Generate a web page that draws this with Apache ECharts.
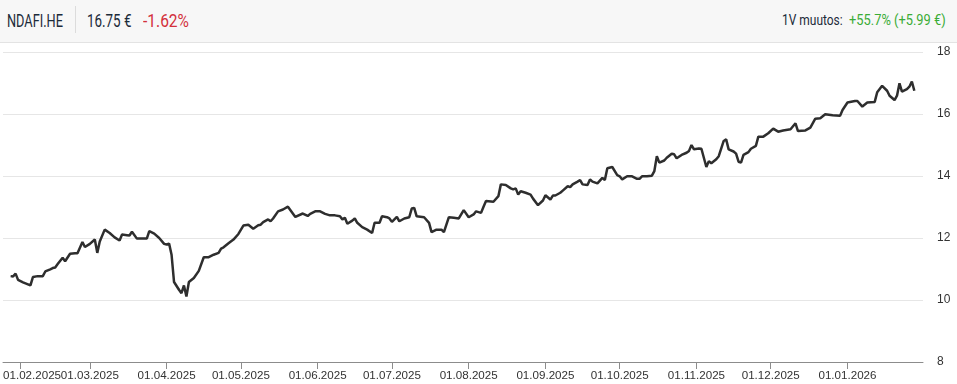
<!DOCTYPE html>
<html><head><meta charset="utf-8">
<script src="https://cdn.jsdelivr.net/npm/echarts@6/dist/echarts.min.js"></script>
<style>
html,body{margin:0;padding:0;background:#fff;}
#chart{position:absolute;left:0;top:0;width:957px;height:384px;}
#hdr{position:absolute;left:0;top:0;width:957px;height:42px;background:#f7f7f7;border-bottom:1px solid #e3e3e3;z-index:2;font-family:Roboto,"Noto Sans",sans-serif;}
.t{position:absolute;white-space:nowrap;transform-origin:0 0;line-height:1;}
#sep{position:absolute;left:75px;top:6px;width:1px;height:27px;background:#dcdcdc;}
</style></head><body>
<div id="chart"></div>
<div id="hdr">
  <span class="t" data-w="56" style="left:7px;top:12px;font-size:18px;color:#1c2b3a;">NDAFI.HE</span>
  <div id="sep"></div>
  <span class="t" data-w="44.5" style="left:87px;top:12px;font-size:18px;color:#1c2b3a;">16.75 €</span>
  <span class="t" data-w="46" style="left:143px;top:12px;font-size:18px;color:#d3303b;">-1.62%</span>
  <span class="t" data-w="60.7" style="left:782px;top:12.5px;font-size:15px;color:#1c2b3a;">1V muutos:</span>
  <span class="t" data-w="96.7" style="left:849px;top:12.5px;font-size:15px;color:#3aac36;">+55.7% (+5.99 €)</span>
</div>
<script>
const dates = [
'2025-01-28','2025-01-29','2025-01-30','2025-01-31','2025-02-02','2025-02-05','2025-02-06','2025-02-08','2025-02-10','2025-02-11',
'2025-02-13','2025-02-14','2025-02-15','2025-02-16','2025-02-18','2025-02-19','2025-02-21','2025-02-23','2025-02-24','2025-02-26',
'2025-02-27','2025-03-01','2025-03-03','2025-03-04','2025-03-05','2025-03-07','2025-03-09','2025-03-11','2025-03-13','2025-03-14',
'2025-03-16','2025-03-17','2025-03-18','2025-03-20','2025-03-22','2025-03-24','2025-03-25','2025-03-27','2025-03-29','2025-03-31',
'2025-04-01','2025-04-02','2025-04-03','2025-04-04','2025-04-06','2025-04-07','2025-04-08','2025-04-09','2025-04-10','2025-04-12',
'2025-04-14','2025-04-16','2025-04-18','2025-04-20','2025-04-22','2025-04-23','2025-04-24','2025-04-26','2025-04-28','2025-04-30',
'2025-05-02','2025-05-04','2025-05-06','2025-05-08','2025-05-09','2025-05-10','2025-05-12','2025-05-13','2025-05-14','2025-05-16',
'2025-05-18','2025-05-20','2025-05-23','2025-05-26','2025-05-28','2025-05-29','2025-05-31','2025-06-02','2025-06-04','2025-06-06',
'2025-06-08','2025-06-10','2025-06-11','2025-06-12','2025-06-13','2025-06-15','2025-06-16','2025-06-17','2025-06-19','2025-06-21',
'2025-06-23','2025-06-24','2025-06-26','2025-06-27','2025-06-29','2025-06-30','2025-07-01','2025-07-03','2025-07-04','2025-07-06',
'2025-07-08','2025-07-09','2025-07-10','2025-07-11','2025-07-14','2025-07-16','2025-07-17','2025-07-19','2025-07-21','2025-07-22',
'2025-07-24','2025-07-26','2025-07-28','2025-07-30','2025-08-01','2025-08-03','2025-08-04','2025-08-06','2025-08-07','2025-08-08',
'2025-08-11','2025-08-13','2025-08-14','2025-08-16','2025-08-18','2025-08-19','2025-08-20','2025-08-21','2025-08-22','2025-08-24',
'2025-08-26','2025-08-27','2025-08-29','2025-08-31','2025-09-01','2025-09-03','2025-09-04','2025-09-05','2025-09-07','2025-09-08',
'2025-09-10','2025-09-11','2025-09-12','2025-09-14','2025-09-15','2025-09-16','2025-09-18','2025-09-19','2025-09-20','2025-09-22',
'2025-09-24','2025-09-25','2025-09-26','2025-09-28','2025-09-30','2025-10-01','2025-10-02','2025-10-04','2025-10-06','2025-10-08',
'2025-10-09','2025-10-10','2025-10-12','2025-10-14','2025-10-15','2025-10-16','2025-10-17','2025-10-19','2025-10-20','2025-10-22',
'2025-10-23','2025-10-24','2025-10-26','2025-10-28','2025-10-29','2025-10-30','2025-10-31','2025-11-02','2025-11-03','2025-11-05',
'2025-11-06','2025-11-07','2025-11-09','2025-11-10','2025-11-12','2025-11-13','2025-11-14','2025-11-16','2025-11-17','2025-11-18',
'2025-11-19','2025-11-20','2025-11-22','2025-11-23','2025-11-25','2025-11-26','2025-11-28','2025-11-30','2025-12-02','2025-12-04',
'2025-12-06','2025-12-09','2025-12-11','2025-12-12','2025-12-15','2025-12-17','2025-12-19','2025-12-21','2025-12-23','2025-12-26',
'2025-12-29','2025-12-30','2026-01-01','2026-01-04','2026-01-05','2026-01-07','2026-01-09','2026-01-12','2026-01-13','2026-01-15',
'2026-01-17','2026-01-18','2026-01-20','2026-01-21','2026-01-22','2026-01-23','2026-01-25','2026-01-26','2026-01-27','2026-01-28'
];
const prices = [
10.77,10.76,10.85,10.65,10.57,10.47,10.74,10.77,10.77,10.92,
10.99,11.03,11.05,11.16,11.36,11.25,11.49,11.51,11.51,11.87,
11.71,11.81,11.95,11.52,11.89,12.27,12.16,12.02,11.92,12.11,
12.09,12.08,12.20,11.98,11.98,11.98,12.22,12.14,12.00,11.81,
11.79,11.82,11.46,10.58,10.33,10.22,10.47,10.11,10.58,10.71,
10.94,11.38,11.38,11.46,11.52,11.66,11.70,11.83,11.95,12.13,
12.40,12.43,12.30,12.41,12.43,12.51,12.60,12.54,12.63,12.86,
12.92,13.01,12.68,12.79,12.71,12.78,12.86,12.86,12.78,12.73,
12.73,12.70,12.60,12.65,12.46,12.56,12.63,12.49,12.35,12.27,
12.16,12.49,12.49,12.70,12.67,12.63,12.52,12.68,12.54,12.63,
12.67,12.95,12.97,12.70,12.67,12.49,12.19,12.27,12.27,12.19,
12.67,12.65,12.63,12.90,12.67,12.76,12.86,12.81,13.01,13.19,
13.17,13.35,13.73,13.71,13.60,13.57,13.60,13.40,13.51,13.46,
13.40,13.27,13.06,13.21,13.38,13.24,13.37,13.37,13.46,13.53,
13.67,13.64,13.73,13.82,13.87,13.73,13.71,13.89,13.82,13.76,
13.94,13.87,14.25,14.29,14.03,13.99,13.89,13.99,13.99,13.91,
13.91,13.99,13.99,14.01,14.16,14.64,14.43,14.50,14.59,14.72,
14.70,14.57,14.68,14.75,14.81,15.00,14.86,14.89,14.88,14.29,
14.48,14.41,14.54,14.64,15.13,15.18,14.86,14.79,14.72,14.46,
14.43,14.68,14.77,14.88,14.97,15.27,15.27,15.38,15.53,15.43,
15.47,15.51,15.70,15.45,15.47,15.56,15.85,15.86,15.99,15.96,
15.94,16.13,16.37,16.42,16.42,16.24,16.37,16.39,16.70,16.91,
16.75,16.59,16.45,16.59,16.99,16.72,16.80,16.88,17.05,16.75
];
const yMin = 8, yMax = 18, yStep = 2;
const xStart = new Date(2025, 0, 24, 22, 0).getTime();
const xEnd = new Date(2026, 0, 31, 12, 0).getTime();

// fit header texts to their widths
document.querySelectorAll('.t[data-w]').forEach(el => {
  const w = el.getBoundingClientRect().width;
  const target = parseFloat(el.dataset.w);
  if (w > 0) el.style.transform = 'scaleX(' + (target / w) + ')';
});

const pad = n => (n < 10 ? '0' : '') + n;
let firstLabelDone = false;
const chart = echarts.init(document.getElementById('chart'), null, {renderer: 'canvas'});
chart.setOption({
  animation: false,
  grid: {left: 3, right: 34, top: 52, bottom: 22, containLabel: false, outerBoundsMode: 'none'},
  xAxis: {
    type: 'time',
    min: xStart,
    max: xEnd,
    splitNumber: 12,
    axisLine: {lineStyle: {color: '#8c8c8c', width: 1}},
    axisTick: {show: true, length: 7, lineStyle: {color: '#8c8c8c'}},
    splitLine: {show: false},
    axisLabel: {
      color: '#333', fontSize: 11.6, fontFamily: 'Liberation Sans, Arial, sans-serif', margin: 8,
      hideOverlap: false,
      formatter: v => {
        const d = new Date(v);
        if (d.getDate() !== 1 || d.getHours() !== 0) return '';
        const s = pad(d.getDate()) + '.' + pad(d.getMonth() + 1) + '.' + d.getFullYear();
        // first label is pushed right so it stays inside the chart
        if (v - xStart < 20 * 864e5) return '{first|' + s + '}';
        return s;
      },
      rich: {first: {padding: [0, 0, 0, 23], color: '#333', fontSize: 11.6, fontFamily: 'Liberation Sans, Arial, sans-serif'}}
    }
  },
  yAxis: {
    type: 'value', position: 'right', min: yMin, max: yMax, interval: yStep,
    axisLine: {show: false}, axisTick: {show: false},
    splitLine: {lineStyle: {color: '#e6e6e6', width: 1}},
    axisLabel: {color: '#333', fontSize: 12, fontFamily: 'Liberation Sans, Arial, sans-serif', margin: 14}
  },
  series: [{
    type: 'line',
    data: dates.map((d, i) => [d, prices[i]]),
    showSymbol: false,
    lineStyle: {color: '#2e2e2e', width: 2.5},
    z: 3
  }]
});
</script>
</body></html>
